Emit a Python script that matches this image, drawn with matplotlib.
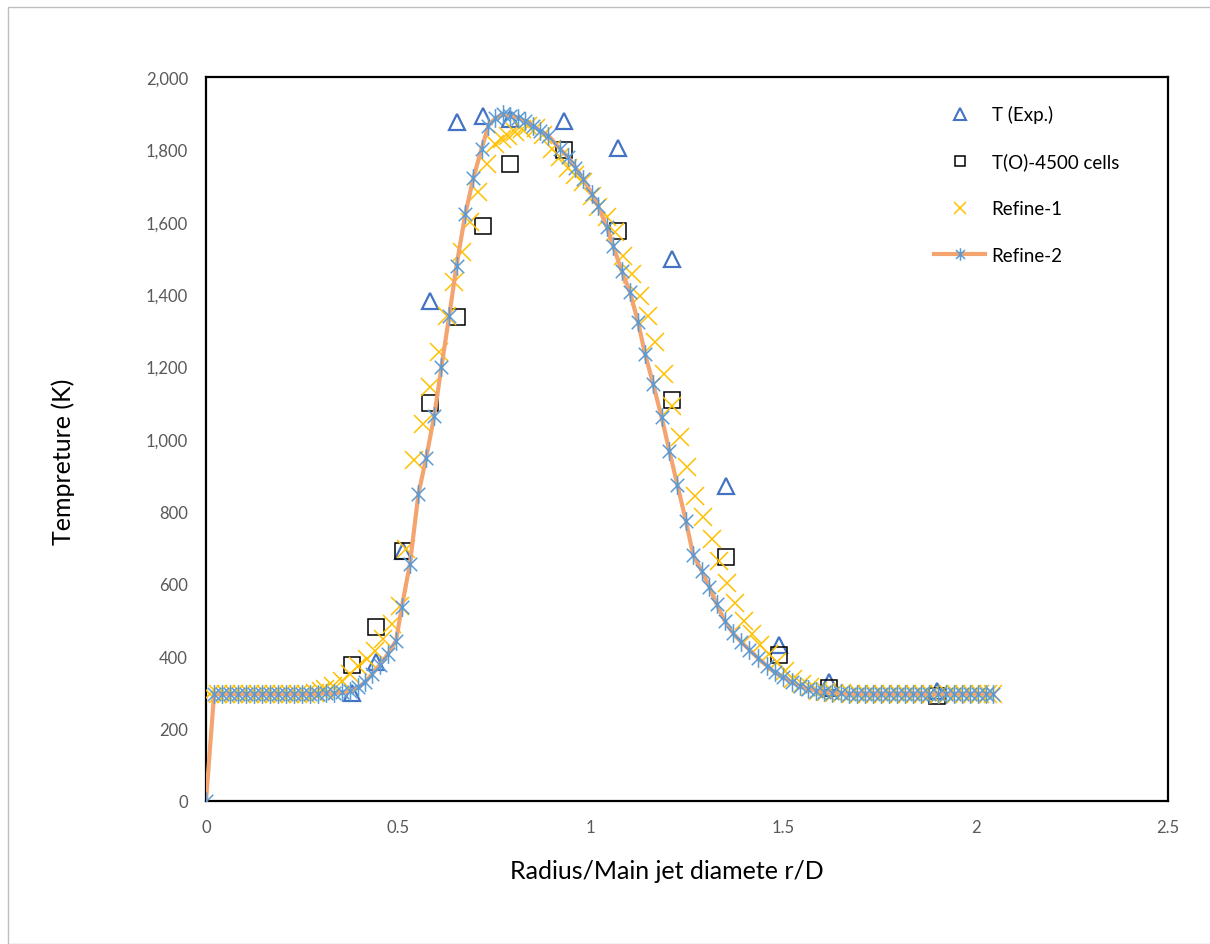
import matplotlib
matplotlib.use("Agg")
import matplotlib.pyplot as plt
from matplotlib.path import Path
from matplotlib.patches import Rectangle
from matplotlib.lines import Line2D
from matplotlib.ticker import FuncFormatter

# ---------------- data ----------------
exp_x = [0.380, 0.442, 0.512, 0.582, 0.652, 0.721, 0.790, 0.931, 1.070, 1.210, 1.351, 1.490, 1.620, 1.900]
exp_y = [298, 384, 690, 1382, 1875, 1891, 1884, 1879, 1803, 1497, 869, 432, 330, 303]

to_x = [0.380, 0.442, 0.512, 0.582, 0.652, 0.721, 0.790, 0.931, 1.070, 1.210, 1.351, 1.490, 1.620, 1.900]
to_y = [376, 480, 690, 1099, 1338, 1589, 1760, 1798, 1575, 1109, 675, 403, 311, 291]

ref1_x = [0.010, 0.031, 0.052, 0.073, 0.094, 0.115, 0.135, 0.156, 0.177, 0.198, 0.219, 0.240,
          0.261, 0.282, 0.300, 0.309, 0.331, 0.353, 0.374, 0.396, 0.418, 0.439, 0.461, 0.483,
          0.504, 0.520, 0.540, 0.563, 0.582, 0.606, 0.625, 0.645, 0.666, 0.687, 0.708, 0.729,
          0.750, 0.768, 0.786, 0.803, 0.820, 0.838, 0.857, 0.877, 0.899, 0.920, 0.940, 0.959,
          0.981, 1.002, 1.019, 1.041, 1.063, 1.084, 1.106, 1.128, 1.149, 1.167, 1.189, 1.210,
          1.232, 1.251, 1.272, 1.292, 1.314, 1.333, 1.354, 1.375, 1.397, 1.418, 1.440, 1.462,
          1.483, 1.505, 1.526, 1.548, 1.570, 1.591, 1.612, 1.633, 1.654, 1.675, 1.696, 1.717,
          1.738, 1.759, 1.780, 1.801, 1.822, 1.843, 1.864, 1.885, 1.906, 1.927, 1.948, 1.969,
          1.990, 2.011, 2.032, 2.046]
ref1_y = [295, 295, 295, 295, 295, 295, 295, 295, 295, 295, 295, 295,
          296, 297, 303, 309, 318, 332, 351, 374, 392, 415, 448, 489,
          540, 696, 943, 1041, 1143, 1241, 1340, 1435, 1517, 1600, 1681, 1760,
          1815, 1829, 1838, 1847, 1856, 1866, 1860, 1840, 1801, 1778, 1750, 1730,
          1709, 1672, 1640, 1612, 1571, 1506, 1456, 1396, 1341, 1267, 1180, 1092,
          1005, 922, 843, 784, 724, 664, 602, 546, 496, 462, 432, 406,
          383, 360, 337, 323, 314, 305, 300, 298, 297, 296, 296, 296,
          296, 296, 296, 296, 296, 296, 296, 296, 296, 296, 296, 296,
          296, 296, 296, 296]

ref2_x = [0.000, 0.021, 0.042, 0.062, 0.083, 0.104, 0.125, 0.146, 0.167, 0.187, 0.208, 0.229,
          0.250, 0.271, 0.292, 0.312, 0.333, 0.354, 0.375, 0.396, 0.413, 0.431, 0.452, 0.472,
          0.494, 0.509, 0.530, 0.552, 0.572, 0.593, 0.612, 0.632, 0.651, 0.674, 0.695, 0.716,
          0.734, 0.752, 0.773, 0.791, 0.812, 0.829, 0.850, 0.868, 0.890, 0.920, 0.942, 0.960,
          0.981, 1.002, 1.019, 1.041, 1.058, 1.080, 1.102, 1.123, 1.141, 1.162, 1.184, 1.204,
          1.225, 1.247, 1.266, 1.288, 1.308, 1.327, 1.349, 1.370, 1.390, 1.412, 1.435, 1.457,
          1.478, 1.500, 1.522, 1.543, 1.565, 1.586, 1.607, 1.628, 1.649, 1.670, 1.691, 1.712,
          1.733, 1.754, 1.775, 1.796, 1.817, 1.838, 1.859, 1.880, 1.901, 1.922, 1.943, 1.964,
          1.985, 2.006, 2.027, 2.046]
ref2_y = [0, 295, 295, 295, 295, 295, 295, 295, 295, 295, 295, 295,
          295, 295, 296, 297, 298, 300, 304, 314, 328, 350, 377, 405,
          443, 537, 655, 848, 947, 1063, 1200, 1340, 1479, 1622, 1722, 1801,
          1866, 1886, 1897, 1893, 1888, 1879, 1866, 1851, 1838, 1801, 1778, 1750,
          1718, 1677, 1644, 1587, 1534, 1465, 1405, 1322, 1235, 1152, 1060, 968,
          873, 774, 680, 636, 592, 544, 496, 463, 440, 418, 394, 374,
          355, 342, 328, 318, 310, 305, 301, 299, 297, 296, 296, 296,
          296, 296, 296, 296, 296, 296, 296, 296, 296, 296, 296, 296,
          296, 296, 296, 296]

labels = ["T (Exp.)", "T(O)-4500 cells", "Refine-1", "Refine-2"]
x_ticks = [0, 0.5, 1, 1.5, 2, 2.5]
x_ticklabels = ["0", "0.5", "1", "1.5", "2", "2.5"]
y_ticks = [0, 200, 400, 600, 800, 1000, 1200, 1400, 1600, 1800, 2000]

# ---------------- style ----------------
plt.rcParams['font.family'] = ['Lato', 'DejaVu Sans']

C_EXP = '#4472C4'
C_TO = '#000000'
C_R1 = '#FFC000'
C_R2M = '#5B9BD5'
C_R2L = '#F4A46E'

asterisk = Path([(0, -1), (0, 1), (-0.72, -0.72), (0.72, 0.72), (-0.72, 0.72), (0.72, -0.72)],
                [Path.MOVETO, Path.LINETO, Path.MOVETO, Path.LINETO, Path.MOVETO, Path.LINETO])

W, H = 1210, 945
fig = plt.figure(figsize=(W / 100, H / 100), dpi=100)
fig.patches.append(Rectangle((8 / W, 0.0), 1.2, 1 - 8 / H, transform=fig.transFigure,
                             fill=False, edgecolor='#BFBFBF', linewidth=1.0))
ax = fig.add_axes([206 / W, 1 - 802 / H, (1168 - 206) / W, (802 - 78) / H])

ax.plot(exp_x, exp_y, linestyle='none', marker='^', markersize=11, markerfacecolor='none',
        markeredgecolor=C_EXP, markeredgewidth=1.6, zorder=3)
ax.plot(to_x, to_y, linestyle='none', marker='s', markersize=11.5, markerfacecolor='none',
        markeredgecolor=C_TO, markeredgewidth=1.1, zorder=3)
ax.plot(ref1_x, ref1_y, linestyle='none', marker='x', markersize=13, markeredgecolor=C_R1,
        markeredgewidth=1.1, zorder=4)
ax.plot(ref2_x, ref2_y, linestyle='-', color=C_R2L, linewidth=3.0, marker=asterisk,
        markersize=13.5, markeredgecolor=C_R2M, markerfacecolor='none', markeredgewidth=1.1,
        zorder=5)

ax.set_xlim(0, 2.5)
ax.set_ylim(0, 2000)
ax.set_xticks(x_ticks)
ax.set_xticklabels(x_ticklabels)
ax.set_yticks(y_ticks)
ax.yaxis.set_major_formatter(FuncFormatter(lambda v, p: f"{int(v):,}"))
ax.tick_params(axis='both', length=0, labelsize=12, labelcolor='#595959')
ax.tick_params(axis='y', pad=13)
ax.tick_params(axis='x', pad=13)
for s in ax.spines.values():
    s.set_color('black')
    s.set_linewidth(1.6)

ax.set_xlabel("Radius/Main jet diamete r/D", fontsize=18)
ax.xaxis.label.set_va('center')
ax.xaxis.set_label_coords((667 - 206) / 962, (802 - 872) / 724)
ax.set_ylabel("Tempreture (K)", fontsize=18)
ax.yaxis.label.set_va('center')
ax.yaxis.set_label_coords((63 - 206) / 962, (802 - 462) / 724)

# legend with small markers as in the reference
handles = [
    Line2D([], [], linestyle='none', marker='^', markersize=8, markerfacecolor='none',
           markeredgecolor=C_EXP, markeredgewidth=1.5),
    Line2D([], [], linestyle='none', marker='s', markersize=7, markerfacecolor='none',
           markeredgecolor=C_TO, markeredgewidth=1.1),
    Line2D([], [], linestyle='none', marker='x', markersize=8, markeredgecolor=C_R1,
           markeredgewidth=1.1),
    Line2D([], [], linestyle='-', color=C_R2L, linewidth=3.0, marker=asterisk, markersize=9,
           markeredgecolor=C_R2M, markerfacecolor='none', markeredgewidth=1.1),
]
fig.legend(handles, labels, loc='upper left', bbox_to_anchor=(934 / W, 1 - 106 / H),
           bbox_transform=fig.transFigure, frameon=False, fontsize=13.5,
           labelspacing=1.58, handlelength=2.72, handletextpad=0.35, borderpad=0,
           borderaxespad=0)

fig.savefig("out.png", dpi=100)
